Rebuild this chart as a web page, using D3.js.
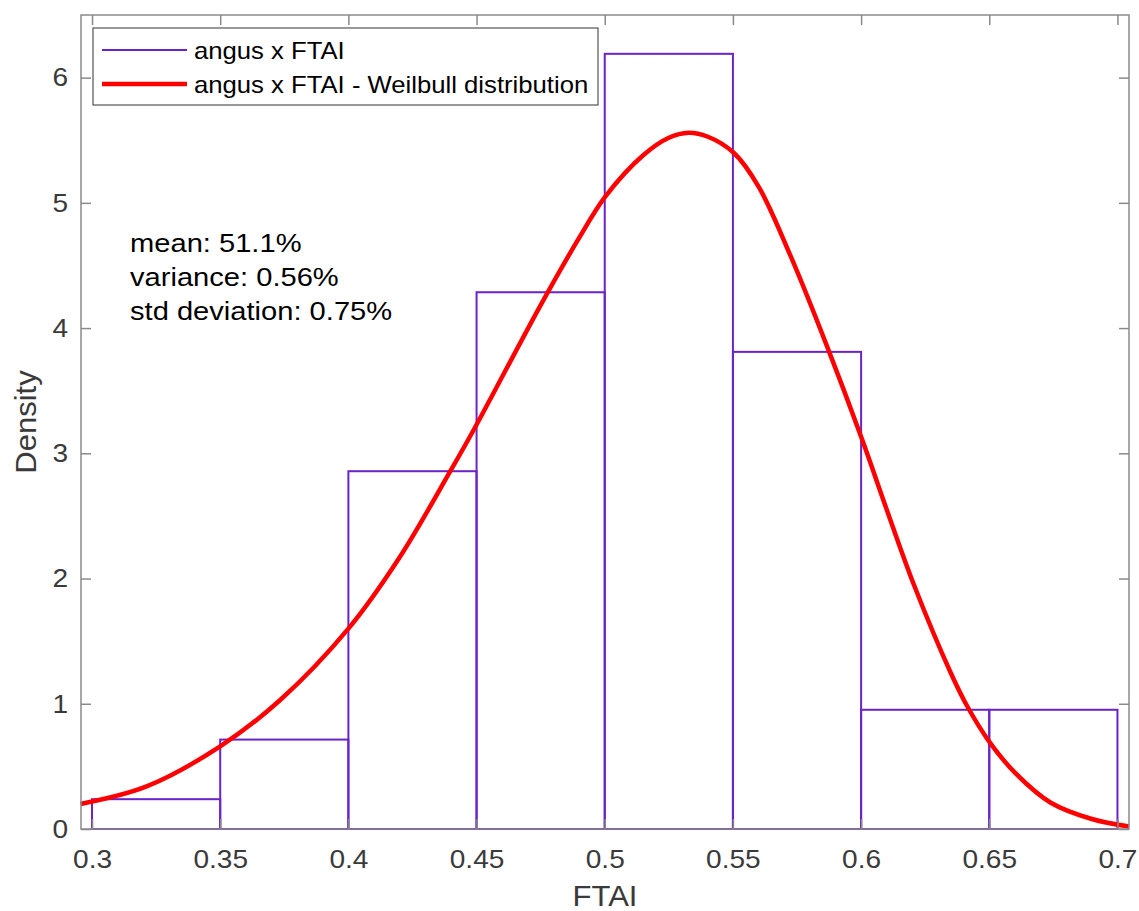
<!DOCTYPE html>
<html>
<head>
<meta charset="utf-8">
<script src="https://cdn.jsdelivr.net/npm/d3@7"></script>
<style>
html,body{margin:0;padding:0;background:#fff;}
svg text{font-family:"Liberation Sans",Arial,sans-serif;}
</style>
</head>
<body>
<svg id="chart" width="1139" height="911"></svg>
<script>
// ---- data ----
const binEdges = [0.30, 0.35, 0.40, 0.45, 0.50, 0.55, 0.60, 0.65, 0.70];
const binDensity = [0.238, 0.714, 2.857, 4.286, 6.190, 3.810, 0.952, 0.952];
const curveX = [0.2955, 0.3213, 0.35, 0.3734, 0.40, 0.42, 0.4397, 0.4495, 0.4749, 0.49, 0.5002, 0.515, 0.525, 0.5327, 0.54, 0.5503, 0.56, 0.5724, 0.5868, 0.6004, 0.61, 0.6206, 0.6349, 0.6414, 0.6499, 0.66, 0.674, 0.69, 0.7045];
const curveY = [0.20, 0.34, 0.66, 1.03, 1.60, 2.17, 2.855, 3.21, 4.18, 4.72, 5.05, 5.38, 5.52, 5.56, 5.53, 5.40, 5.13, 4.58, 3.85, 3.11, 2.55, 1.95, 1.25, 0.98, 0.70, 0.45, 0.21, 0.08, 0.02];
const xTicks = [0.3, 0.35, 0.4, 0.45, 0.5, 0.55, 0.6, 0.65, 0.7];
const yTicks = [0, 1, 2, 3, 4, 5, 6];
const statsLines = ["mean: 51.1%", "variance: 0.56%", "std deviation: 0.75%"];
const legendLabels = ["angus x FTAI", "angus x FTAI - Weilbull distribution"];

// ---- layout ----
const L = 81, R = 1129, T = 15, B = 829;
const histColor = "#6a22c9", fitColor = "#ff0000", axisColor = "#8a8a8a", textColor = "#3a3a3a";
const FONT = "'Liberation Sans', Arial, sans-serif";

const svg = d3.select("#chart");
const x = d3.scaleLinear().domain([0.2957, 0.7045]).range([L, R]);
const y = d3.scaleLinear().domain([0, 6.5]).range([B, T]);

// histogram bars (outlined)
const bins = binDensity.map((d, i) => ({x0: binEdges[i], x1: binEdges[i + 1], v: d}));
svg.append("g").selectAll("rect").data(bins).join("rect")
  .attr("x", d => x(d.x0)).attr("y", d => y(d.v))
  .attr("width", d => x(d.x1) - x(d.x0)).attr("height", d => y(0) - y(d.v))
  .attr("fill", "none").attr("stroke", histColor).attr("stroke-width", 2);

// fitted curve
const pts = curveX.map((v, i) => [v, curveY[i]]);
svg.append("path").datum(pts)
  .attr("d", d3.line().x(d => x(d[0])).y(d => y(d[1])).curve(d3.curveCatmullRom.alpha(0.5)))
  .attr("fill", "none").attr("stroke", fitColor).attr("stroke-width", 4.5)
  .attr("stroke-linejoin", "round");

// axes (box with inward ticks)
const tickLen = 10;
const TS = 26, TSX = 1.08;
function styleAxis(g) {
  g.select(".domain").remove();
  g.selectAll(".tick line").attr("stroke", axisColor).attr("stroke-width", 1.5);
  g.selectAll(".tick text").attr("fill", textColor).attr("font-size", TS).attr("font-family", FONT);
}
svg.append("g").attr("transform", `translate(0,${B})`)
  .call(d3.axisBottom(x).tickValues(xTicks).tickFormat(d3.format("~g")).tickSizeInner(-tickLen).tickSizeOuter(0).tickPadding(21))
  .call(styleAxis)
  .call(g => g.selectAll(".tick text").attr("transform", `scale(${TSX},1)`));
svg.append("g").attr("transform", `translate(0,${T})`)
  .call(d3.axisTop(x).tickValues(xTicks).tickFormat("").tickSizeInner(-tickLen).tickSizeOuter(0))
  .call(styleAxis);
svg.append("g").attr("transform", `translate(${L},0)`)
  .call(d3.axisLeft(y).tickValues(yTicks).tickFormat(d3.format("d")).tickSizeInner(-tickLen).tickSizeOuter(0).tickPadding(13))
  .call(styleAxis)
  .call(g => g.selectAll(".tick text").attr("x", -13 / TSX).attr("transform", `scale(${TSX},1)`));
svg.append("g").attr("transform", `translate(${R},0)`)
  .call(d3.axisRight(y).tickValues(yTicks).tickFormat("").tickSizeInner(-tickLen).tickSizeOuter(0))
  .call(styleAxis);
svg.append("rect").attr("x", L).attr("y", T).attr("width", R - L).attr("height", B - T)
  .attr("fill", "none").attr("stroke", axisColor).attr("stroke-width", 1.5);

// axis labels
svg.append("text").attr("transform", `translate(${(L + R) / 2},906) scale(1.07,1)`).attr("text-anchor", "middle")
  .attr("font-size", 29).attr("fill", textColor).text("FTAI");
svg.append("text").attr("transform", `translate(36,${(T + B) / 2}) rotate(-90) scale(1.07,1)`)
  .attr("text-anchor", "middle").attr("font-size", 29).attr("fill", textColor).text("Density");

// stats text
svg.append("g").selectAll("text").data(statsLines).join("text")
  .attr("transform", (d, i) => `translate(130,${252 + i * 34}) scale(1.12,1)`)
  .attr("font-size", 26).attr("fill", "#000").text(d => d);

// legend
const lg = svg.append("g");
lg.append("rect").attr("x", 93).attr("y", 28).attr("width", 505).attr("height", 77)
  .attr("fill", "#fff").attr("stroke", "#333").attr("stroke-width", 1);
const legendStyles = [{c: histColor, w: 2}, {c: fitColor, w: 4.5}];
legendLabels.forEach((lab, i) => {
  const yy = 50 + i * 34;
  lg.append("line").attr("x1", 102).attr("x2", 187).attr("y1", yy).attr("y2", yy)
    .attr("stroke", legendStyles[i].c).attr("stroke-width", legendStyles[i].w);
  lg.append("text").attr("transform", `translate(194,${yy + 9}) scale(1.07,1)`)
    .attr("font-size", 24).attr("fill", "#000").text(lab);
});
</script>
</body>
</html>
